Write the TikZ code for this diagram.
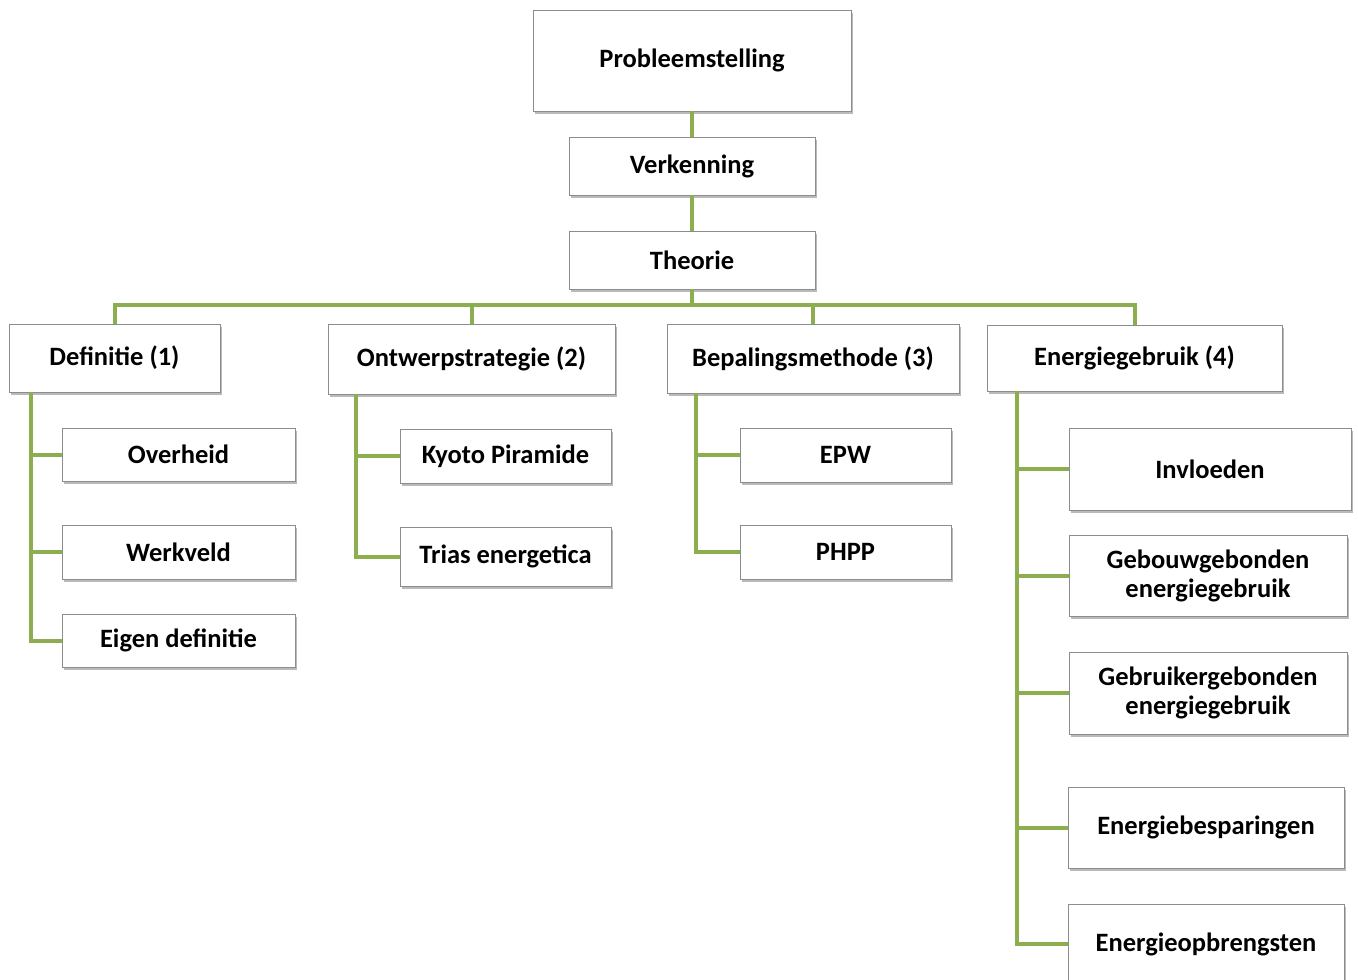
\documentclass[tikz,border=0pt]{standalone}
\usepackage{fontspec}
\setmainfont{Carlito}
\usetikzlibrary{shadows}
\definecolor{lgreen}{HTML}{8DAE4F}
\definecolor{bordergray}{HTML}{8C8C8C}
\begin{document}
\begin{tikzpicture}[x=1pt,y=-1pt,
  txt/.style={font=\fontsize{26.5}{29}\selectfont\bfseries},
  box/.style={draw=bordergray, line width=1pt, fill=white, inner sep=0pt, outer sep=0pt,
    align=center, txt,
    drop shadow={shadow xshift=1.5pt, shadow yshift=-3pt, opacity=0.45, fill=black!60}},
  link/.style={draw=lgreen, line width=4pt}]
\useasboundingbox (0,0) rectangle (1358,980);
\fill[white] (0,0) rectangle (1358,980);
% top chain
\node[box, minimum width=318, minimum height=101] (prob) at (692,60.5) {Probleemstelling};
\node[box, minimum width=246, minimum height=58] (verk) at (692,166) {Verkenning};
\node[box, minimum width=246, minimum height=58] (theo) at (692,260) {Theorie};
% level 1
\node[box, minimum width=211, minimum height=68] (def) at (114.5,358) {Definitie (1)};
\node[box, minimum width=287, minimum height=70] (ont) at (471.5,359) {Ontwerpstrategie (2)};
\node[box, minimum width=292, minimum height=69] (bep) at (813,358.5) {Bepalingsmethode (3)};
\node[box, minimum width=295, minimum height=66] (ene) at (1134.5,358) {Energiegebruik (4)};
% children of Definitie
\node[box, minimum width=233, minimum height=53] (ovh) at (178.5,454.5) {Overheid};
\node[box, minimum width=233, minimum height=54] (wrk) at (178.5,552) {Werkveld};
\node[box, minimum width=233, minimum height=53] (eig) at (178.5,640.5) {Eigen definitie};
% children of Ontwerpstrategie
\node[box, minimum width=211, minimum height=54] (kyo) at (505.5,456) {Kyoto Piramide};
\node[box, minimum width=211, minimum height=59] (tri) at (505.5,556.5) {Trias energetica};
% children of Bepalingsmethode
\node[box, minimum width=211, minimum height=54] (epw) at (845.5,455) {EPW};
\node[box, minimum width=211, minimum height=54] (php) at (845.5,552) {PHPP};
% children of Energiegebruik
\node[box, minimum width=282, minimum height=82] (inv) at (1210,469) {Invloeden};
\node[box, minimum width=278, minimum height=81] (geb) at (1208,575.5) {Gebouwgebonden\\energiegebruik};
\node[box, minimum width=278, minimum height=82] (gbr) at (1208,693) {Gebruikergebonden\\energiegebruik};
\node[box, minimum width=276, minimum height=81] (bes) at (1206,827.5) {Energiebesparingen};
\node[box, minimum width=276, minimum height=96] (opb) at (1206,952) {};
\node[txt, inner sep=0pt] (opbt) at (1206,944) {Energieopbrengsten};
% connectors
\coordinate (bus) at (692,305);
\draw[link] (prob.south) -- (verk.north);
\draw[link] (verk.south) -- (theo.north);
\draw[link] (theo.south) -- (bus);
\draw[link] (def.north) |- (bus);
\draw[link] (ont.north) |- (bus);
\draw[link] (bep.north) |- (bus);
\draw[link] (ene.north) |- (bus);
% Definitie trunk
\coordinate (dt) at ([xshift=22pt]def.south west);
\draw[link] (dt) |- (eig.west);
\draw[link] (dt |- ovh.west) -- (ovh.west);
\draw[link] (dt |- wrk.west) -- (wrk.west);
% Ontwerp trunk
\coordinate (ot) at ([xshift=28pt]ont.south west);
\draw[link] (ot) |- (tri.west);
\draw[link] (ot |- kyo.west) -- (kyo.west);
% Bepaling trunk
\coordinate (bt) at ([xshift=29pt]bep.south west);
\draw[link] (bt) |- (php.west);
\draw[link] (bt |- epw.west) -- (epw.west);
% Energie trunk
\coordinate (et) at ([xshift=30pt]ene.south west);
\coordinate (opbw) at (opb.west |- opbt);
\draw[link] (et) |- (opbw);
\draw[link] (et |- inv.west) -- (inv.west);
\draw[link] (et |- geb.west) -- (geb.west);
\draw[link] (et |- gbr.west) -- (gbr.west);
\draw[link] (et |- bes.west) -- (bes.west);
\end{tikzpicture}
\end{document}
